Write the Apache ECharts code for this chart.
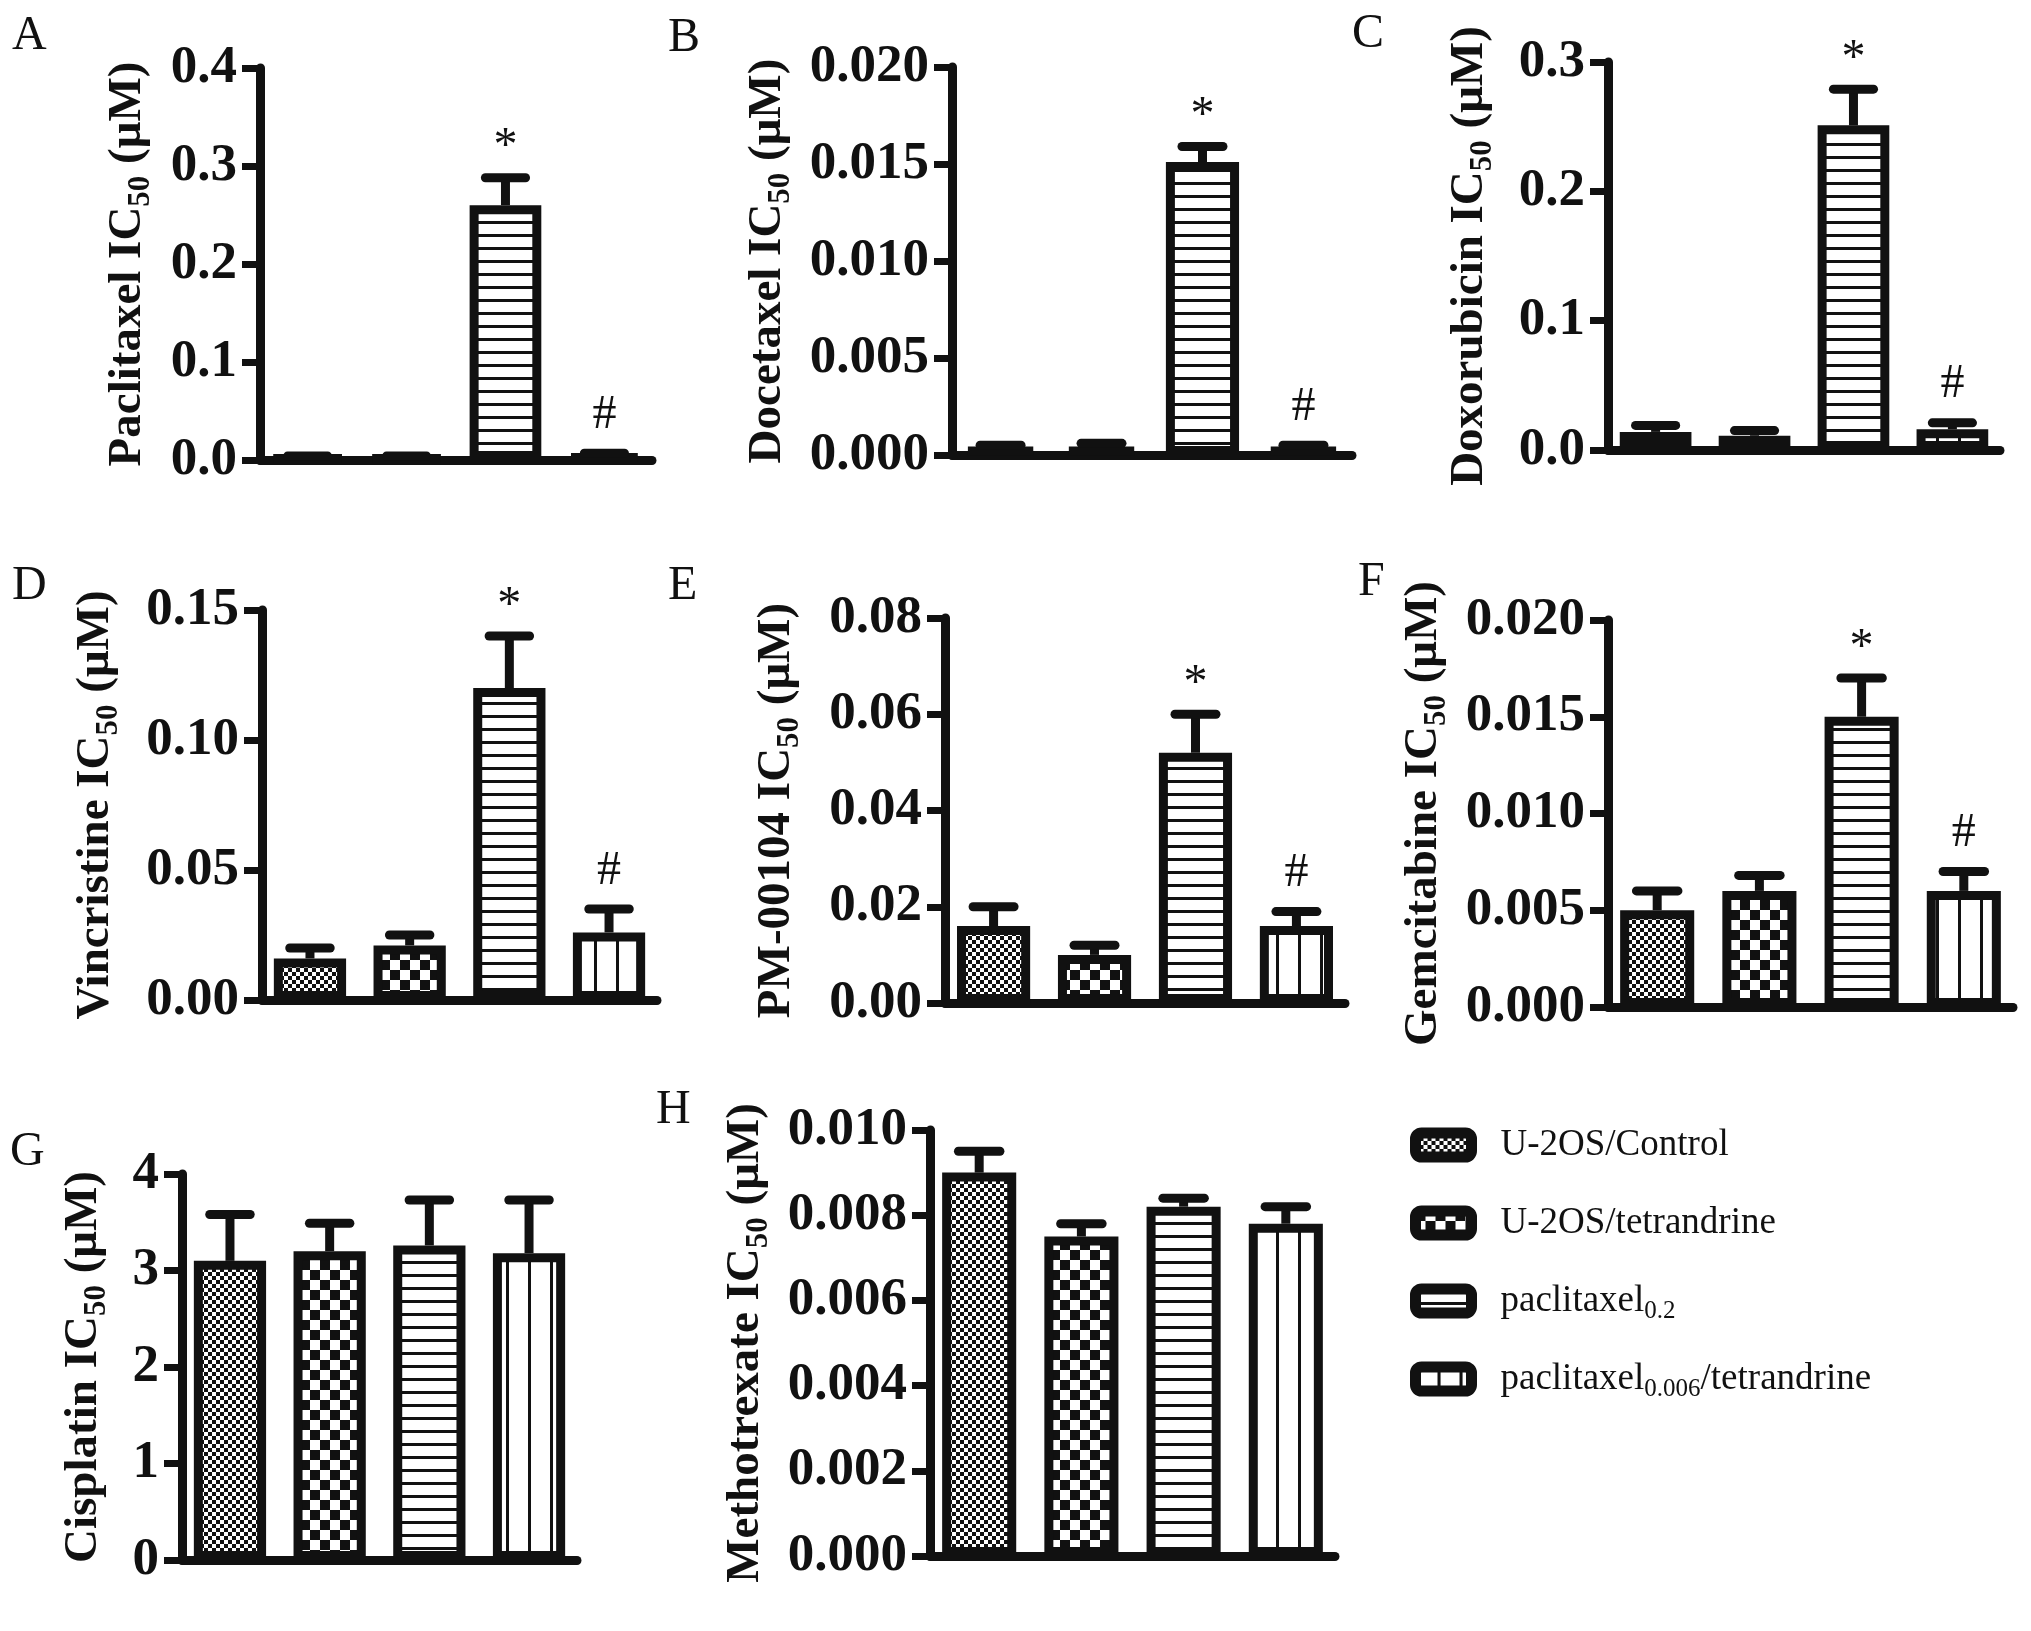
<!DOCTYPE html>
<html>
<head>
<meta charset="utf-8">
<script src="https://cdn.jsdelivr.net/npm/echarts@6/dist/echarts.min.js"></script>
<style>
  html, body { margin: 0; background: #fff; }
  #chart { width: 2031px; height: 1631px; }
</style>
</head>
<body>
<div id="chart"></div>
<script>
// groups (same four bars in every panel)
const groups = ['U-2OS/Control', 'U-2OS/tetrandrine', 'paclitaxel0.2', 'paclitaxel0.006/tetrandrine'];
const groupLabels = ['U-2OS/Control', 'U-2OS/tetrandrine', 'paclitaxel{s|0.2}', 'paclitaxel{s|0.006}/tetrandrine'];

// panels
const letters = ['A', 'B', 'C', 'D', 'E', 'F', 'G', 'H'];
const drugs = ['Paclitaxel', 'Docetaxel', 'Doxorubicin', 'Vincristine', 'PM-00104', 'Gemcitabine', 'Cisplatin', 'Methotrexate'];
const yMax = [0.4, 0.020, 0.3, 0.15, 0.08, 0.020, 4, 0.010];
const yStep = [0.1, 0.005, 0.1, 0.05, 0.02, 0.005, 1, 0.002];
const yDigits = [1, 3, 1, 2, 2, 3, 0, 3];

// IC50 means and error (upper SD) per drug
const paclitaxel = [0.003, 0.003, 0.260, 0.005];
const paclitaxelErr = [0.001, 0.001, 0.028, 0.002];
const docetaxel = [0.0004, 0.0004, 0.0151, 0.0004];
const docetaxelErr = [0.0001, 0.0002, 0.0008, 0.0001];
const doxorubicin = [0.014, 0.011, 0.251, 0.016];
const doxorubicinErr = [0.005, 0.004, 0.028, 0.005];
const vincristine = [0.016, 0.021, 0.120, 0.026];
const vincristineErr = [0.004, 0.004, 0.020, 0.009];
const pm00104 = [0.016, 0.010, 0.052, 0.016];
const pm00104Err = [0.004, 0.002, 0.008, 0.003];
const gemcitabine = [0.0050, 0.0060, 0.0150, 0.0060];
const gemcitabineErr = [0.0010, 0.0008, 0.0020, 0.0010];
const cisplatin = [3.10, 3.20, 3.26, 3.18];
const cisplatinErr = [0.48, 0.29, 0.47, 0.55];
const methotrexate = [0.0090, 0.0075, 0.0082, 0.0078];
const methotrexateErr = [0.0005, 0.0003, 0.0002, 0.0004];

const sigMarks = ['', '', '*', '#'];
const noMarks = ['', '', '', ''];

const means = [paclitaxel, docetaxel, doxorubicin, vincristine, pm00104, gemcitabine, cisplatin, methotrexate];
const errs = [paclitaxelErr, docetaxelErr, doxorubicinErr, vincristineErr, pm00104Err, gemcitabineErr, cisplatinErr, methotrexateErr];
const marks = [sigMarks, sigMarks, sigMarks, sigMarks, sigMarks, sigMarks, noMarks, noMarks];

// layout
const grids = [
  { left: 260, top: 68, width: 392, height: 392 },
  { left: 952, top: 67, width: 400, height: 388 },
  { left: 1608, top: 62, width: 392, height: 388 },
  { left: 262, top: 610, width: 395, height: 390 },
  { left: 945, top: 618, width: 400, height: 385 },
  { left: 1608, top: 620, width: 405, height: 387 },
  { left: 182, top: 1174, width: 395, height: 386 },
  { left: 930, top: 1130, width: 405, height: 426 }
];
const nameGaps = [104, 156, 110, 138, 140, 156, 70, 156];
const letterPos = [[12, 12], [668, 14], [1352, 10], [12, 562], [668, 562], [1358, 558], [10, 1128], [656, 1086]];

const INK = '#111';
const FONT = '"Liberation Serif", "Times New Roman", serif';
const CAT_GAP = 0.06;
const BAR_GAP = 0.38;
const LINE = 9;

function makePattern(kind) {
  const c = document.createElement('canvas');
  const ctx = c.getContext('2d');
  let s = 8;
  if (kind === 'coarse') s = 20;
  if (kind === 'hline') s = 13;
  if (kind === 'vline') s = 22;
  c.width = s; c.height = s;
  ctx.fillStyle = '#fff';
  ctx.fillRect(0, 0, s, s);
  ctx.fillStyle = INK;
  if (kind === 'fine' || kind === 'coarse') {
    ctx.fillRect(0, 0, s / 2, s / 2);
    ctx.fillRect(s / 2, s / 2, s / 2, s / 2);
  } else if (kind === 'hline') {
    ctx.fillRect(0, 0, s, 3);
  } else {
    ctx.fillRect(0, 0, 3, s);
  }
  return { image: c, repeat: 'repeat' };
}
const fills = [makePattern('fine'), makePattern('coarse'), makePattern('hline'), makePattern('vline')];

const xAxes = [], yAxes = [], series = [];
grids.forEach((g, p) => {
  xAxes.push({
    type: 'category', gridIndex: p, data: [''],
    axisLine: { lineStyle: { color: INK, width: LINE, cap: 'round' } },
    axisTick: { alignWithLabel: true, length: 24, lineStyle: { color: INK, width: 6 } },
    axisLabel: { show: false }, splitLine: { show: false }
  });
  yAxes.push({
    type: 'value', gridIndex: p, min: 0, max: yMax[p], interval: yStep[p],
    name: drugs[p] + ' IC{s|50} (μM)', nameLocation: 'middle', nameGap: nameGaps[p],
    nameTextStyle: {
      fontFamily: FONT, fontWeight: 'bold', fontSize: 47, color: INK, lineHeight: 56,
      rich: { s: { fontFamily: FONT, fontWeight: 'bold', fontSize: 31, color: INK, verticalAlign: 'bottom', lineHeight: 30 } }
    },
    axisLine: { show: true, lineStyle: { color: INK, width: LINE, cap: 'round' } },
    axisTick: { show: true, length: 18, lineStyle: { color: INK, width: 7 } },
    axisLabel: {
      fontFamily: FONT, fontWeight: 'bold', fontSize: 53, color: INK, margin: 23,
      formatter: v => v.toFixed(yDigits[p])
    },
    splitLine: { show: false }
  });
  groups.forEach((name, i) => {
    series.push({
      type: 'bar', name: name, xAxisIndex: p, yAxisIndex: p,
      data: [means[p][i]],
      barCategoryGap: (CAT_GAP * 100) + '%', barGap: (BAR_GAP * 100) + '%',
      itemStyle: { color: fills[i], borderColor: INK, borderWidth: LINE },
      emphasis: { disabled: true }
    });
  });
  series.push({
    type: 'custom', name: 'err' + p, xAxisIndex: p, yAxisIndex: p, z: 5,
    data: groups.map((_, i) => [0, means[p][i], errs[p][i], i]),
    encode: { x: 0, y: 1 },
    renderItem: function (params, api) {
      const bi = api.value(3);
      const mean = api.value(1), err = api.value(2);
      const band = api.size([1, 0])[0];
      const usable = band * (1 - CAT_GAP);
      const w = usable / (4 + 3 * BAR_GAP);
      const c0 = api.coord([0, 0]);
      const cx = c0[0] - usable / 2 + w / 2 + bi * w * (1 + BAR_GAP);
      const y0 = api.coord([0, mean])[1];
      const y1 = api.coord([0, mean + err])[1];
      const capHalf = w * 0.28;
      const children = [
        { type: 'line', shape: { x1: cx, y1: y0, x2: cx, y2: y1 }, style: { stroke: INK, lineWidth: LINE } },
        { type: 'line', shape: { x1: cx - capHalf, y1: y1, x2: cx + capHalf, y2: y1 }, style: { stroke: INK, lineWidth: LINE, lineCap: 'round' } }
      ];
      const m = marks[p][bi];
      if (m) {
        children.push({
          type: 'text',
          style: { text: m, x: cx, y: y1 - (m === '*' ? 6 : 14), align: 'center', verticalAlign: 'bottom', font: '48px ' + FONT, fill: INK }
        });
      }
      return { type: 'group', children: children };
    }
  });
});

const chart = echarts.init(document.getElementById('chart'), null, { renderer: 'canvas' });
chart.setOption({
  backgroundColor: '#fff',
  animation: false,
  grid: grids.map(g => Object.assign({ containLabel: false }, g)),
  xAxis: xAxes,
  yAxis: yAxes,
  legend: {
    data: groups, orient: 'vertical', left: 1405, top: 1117,
    icon: 'roundRect', itemWidth: 56, itemHeight: 24, itemGap: 32,
    selectedMode: false,
    itemStyle: { borderColor: INK, borderWidth: 11 },
    formatter: name => groupLabels[groups.indexOf(name)],
    textStyle: {
      fontFamily: FONT, fontSize: 37, color: INK, padding: [0, 0, 0, 24], lineHeight: 46,
      rich: { s: { fontFamily: FONT, fontSize: 25, color: INK, verticalAlign: 'bottom', lineHeight: 25 } }
    }
  },
  graphic: letters.map((t, i) => ({
    type: 'text', left: letterPos[i][0], top: letterPos[i][1],
    style: { text: t, font: '48px ' + FONT, fill: INK }
  })),
  series: series
});
</script>
</body>
</html>
